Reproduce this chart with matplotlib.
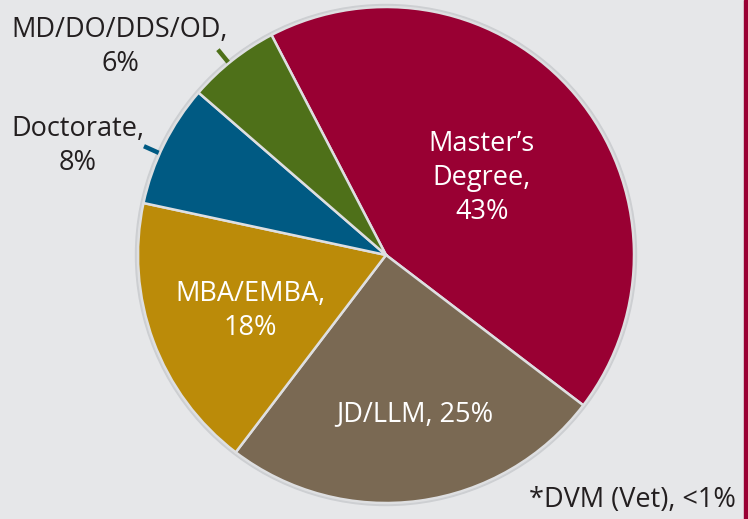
import numpy as np
import matplotlib.pyplot as plt
from matplotlib.patches import Circle, Rectangle

# degree shares, clockwise from Master's
labels = ["Master\u2019s\nDegree,\n43%", "JD/LLM, 25%", "MBA/EMBA,\n18%", "Doctorate,\n8%", "MD/DO/DDS/OD,\n6%"]
values = [43, 25, 18, 8, 6]
colors = ["#990033", "#7a6953", "#bb8b09", "#005a83", "#4e7019"]
note = "*DVM (Vet), <1%"

plt.rcParams['font.family'] = ['Open Sans', 'DejaVu Sans']

W, H = 748, 519
fig = plt.figure(figsize=(W / 100, H / 100), dpi=100)
fig.patch.set_facecolor("#e6e7e9")
ax = fig.add_axes([0, 0, 1, 1])

cx, cy, R = 386, 264, 248
start = 117.5

# faint outline round the pie
ax.add_patch(Circle((cx, cy), R + 2.5, color="#cdcfd2", zorder=0))

wedges, _ = ax.pie(values, colors=colors, startangle=start, counterclock=False,
                   center=(cx, cy), radius=R, frame=True,
                   wedgeprops=dict(edgecolor="#dedfe1", linewidth=1.8))
ax.set_xlim(0, W)
ax.set_ylim(0, H)
ax.set_aspect("equal")
ax.axis("off")

# labels
fs = 19.5
ls = 1.3
ax.text(482, 519 - 178, labels[0], color="white", fontsize=fs, ha="center", va="center", linespacing=ls)
ax.text(415, 519 - 414, labels[1], color="white", fontsize=fs, ha="center", va="center")
ax.text(250, 519 - 311, labels[2], color="white", fontsize=fs, ha="center", va="center", linespacing=ls)
ax.text(78, 519 - 146, labels[3], color="#231f20", fontsize=fs, ha="center", va="center", linespacing=ls)
ax.text(120, 519 - 47, labels[4], color="#231f20", fontsize=fs, ha="center", va="center", linespacing=ls)
ax.text(736, 519 - 500, note, color="#231f20", fontsize=fs, ha="right", va="center")

# leader lines for the two small slices (slightly off the slice middle)
for i, shift in ((3, 2.3), (4, 1.0)):
    w = wedges[i]
    mid = np.deg2rad((w.theta1 + w.theta2) / 2 + shift)
    r0, r1 = R * 1.0, R * 1.07
    ax.plot([cx + r0 * np.cos(mid), cx + r1 * np.cos(mid)],
            [cy + r0 * np.sin(mid), cy + r1 * np.sin(mid)],
            color=colors[i], lw=3.2, solid_capstyle="butt", zorder=0.5)

# red bar at right edge
fig.patches.append(Rectangle((744 / W, 0), 4 / W, 1, transform=fig.transFigure,
                             color="#990033", zorder=5))

fig.savefig("out.png", dpi=100, facecolor=fig.get_facecolor())
